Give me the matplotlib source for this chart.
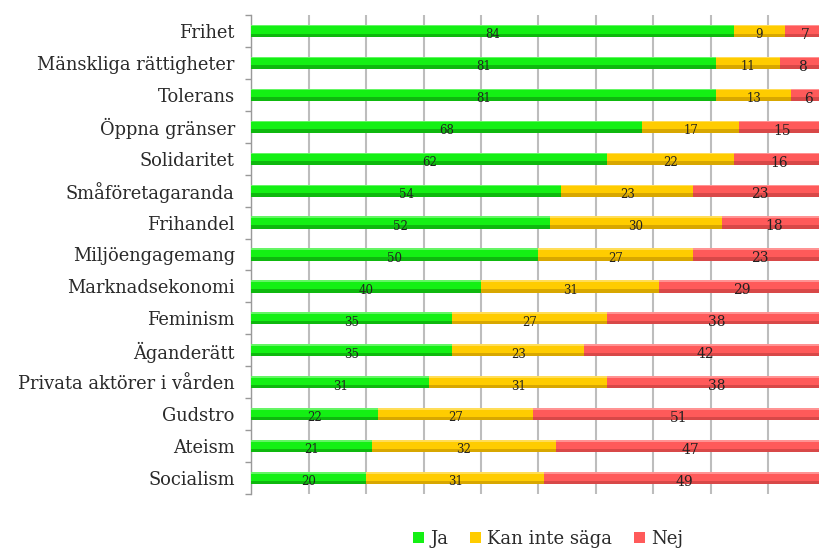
import matplotlib
matplotlib.use("Agg")
import matplotlib.pyplot as plt
import numpy as np
from matplotlib.patches import Patch

categories = ["Frihet", "Mänskliga rättigheter", "Tolerans", "Öppna gränser",
              "Solidaritet", "Småföretagaranda", "Frihandel", "Miljöengagemang",
              "Marknadsekonomi", "Feminism", "Äganderätt", "Privata aktörer i vården",
              "Gudstro", "Ateism", "Socialism"]
ja = [84, 81, 81, 68, 62, 54, 52, 50, 40, 35, 35, 31, 22, 21, 20]
kan_inte = [9, 11, 13, 17, 22, 23, 30, 27, 31, 27, 23, 31, 27, 32, 31]
nej = [7, 8, 6, 15, 16, 23, 18, 23, 29, 38, 42, 38, 51, 47, 49]
series_names = ["Ja", "Kan inte säga", "Nej"]

colors = ["#14f014", "#ffcc00", "#ff5a5a"]
dark = ["#0a8a0a", "#b88a00", "#b83a3a"]

plt.rcParams['font.family'] = ['DejaVu Serif']

W, H = 820, 549
fig = plt.figure(figsize=(W / 100, H / 100), dpi=100)
ax = fig.add_axes([251.5 / W, 1 - 494 / H, 574 / W, (494 - 15) / H])

y = np.arange(len(categories))
h = 0.38
left = np.zeros(len(categories))
series = [ja, kan_inte, nej]
for i, vals in enumerate(series):
    vals = np.array(vals, dtype=float)
    ax.barh(y, vals, left=left, height=h, color=colors[i], zorder=3)
    # darker shading at the lower edge of each bar
    ax.barh(y + h / 2 - 0.055, vals, left=left, height=0.11, color=dark[i],
            alpha=0.55, zorder=4, linewidth=0)
    ax.barh(y - h / 2 + 0.025, vals, left=left, height=0.05, color="white",
            alpha=0.35, zorder=4, linewidth=0)
    for yi, (l, v) in enumerate(zip(left, vals)):
        ax.text(l + v / 2, yi + 0.12, f"{int(v)}", ha="center", va="center",
                fontsize=8.5 if i < 2 else 10, color="#222222", zorder=5)
    left = left + vals

ax.set_xlim(0, 100)
ax.set_ylim(len(categories) - 0.5, -0.5)
ax.set_xticks(np.arange(0, 101, 10))
ax.tick_params(axis="x", length=0, labelbottom=False)
ax.grid(axis="x", color="#bdbdbd", linewidth=1.5, zorder=0)
ax.set_axisbelow(True)

ax.set_yticks(y)
ax.set_yticklabels(categories, fontsize=12.9, color="#2a2a2a")
ax.tick_params(axis="y", which="major", length=0, pad=12)
ax.set_yticks(np.arange(-0.5, len(categories), 1), minor=True)
ax.tick_params(axis="y", which="minor", length=4, color="#999999", width=1)

for s in ["top", "right", "bottom"]:
    ax.spines[s].set_visible(False)
ax.spines["left"].set_color("#999999")
ax.spines["left"].set_linewidth(1)

handles = [Patch(facecolor=c, edgecolor="none") for c in colors]
fig.legend(handles, series_names, loc="center", bbox_to_anchor=(548 / W, 1 - 539 / H),
           ncol=3, frameon=False, fontsize=13, handlelength=0.6, handleheight=0.6,
           handletextpad=0.35, columnspacing=1.2, labelcolor="#2a2a2a")

fig.savefig("out.png", dpi=100)
